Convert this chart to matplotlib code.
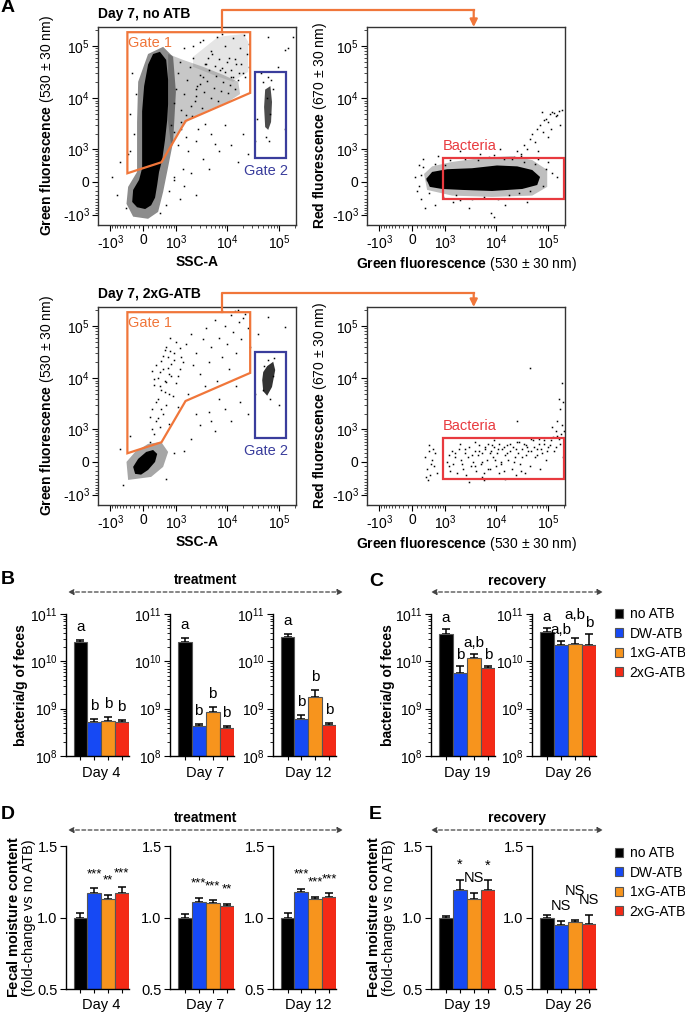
# -*- coding: utf-8 -*-
import numpy as np
import matplotlib
matplotlib.use('Agg')
import matplotlib.pyplot as plt
from matplotlib.lines import Line2D
from matplotlib.patches import FancyArrowPatch, Patch, Rectangle

plt.rcParams['font.family'] = 'Liberation Sans'
plt.rcParams['mathtext.fontset'] = 'custom'
plt.rcParams['mathtext.rm'] = 'Liberation Sans'
plt.rcParams['mathtext.bf'] = 'Liberation Sans:bold'
plt.rcParams['mathtext.it'] = 'Liberation Sans:italic'

# ---------------- dados ----------------
grupos = ['no ATB', 'DW-ATB', '1xG-ATB', '2xG-ATB']
cores = ['#000000', '#1649F4', '#F7941D', '#F42A16']

dias_trat = ['Day 4', 'Day 7', 'Day 12']
dias_rec = ['Day 19', 'Day 26']

# B / C : bacterias por g de fezes
bact_trat = [[2.5e10, 5.3e8, 5.6e8, 5.3e8],
             [2.6e10, 4.2e8, 8.5e8, 4.0e8],
             [3.3e10, 6.1e8, 1.8e9, 4.6e8]]
bact_trat_err = [[0.32e10, 0.7e8, 1.2e8, 0.5e8],
                 [0.45e10, 0.5e8, 2.5e8, 0.4e8],
                 [0.45e10, 1.2e8, 0.7e9, 0.5e8]]
letras_trat = [['a', 'b', 'b', 'b'], ['a', 'b', 'b', 'b'], ['a', 'b', 'b', 'b']]

bact_rec = [[3.8e10, 5.6e9, 1.2e10, 7.3e9],
            [4.2e10, 2.2e10, 2.35e10, 2.2e10]]
bact_rec_err = [[1.0e10, 2.4e9, 0.25e10, 0.8e9],
                [0.8e10, 0.55e10, 0.75e10, 1.5e10]]
letras_rec = [['a', 'b', 'a,b', 'b'], ['a', 'a,b', 'a,b', 'b']]

# D / E : umidade fecal
umid_trat = [[1.0, 1.17, 1.128, 1.174],
             [1.0, 1.107, 1.104, 1.081],
             [1.0, 1.181, 1.128, 1.146]]
umid_trat_err = [[0.03, 0.035, 0.03, 0.036],
                 [0.024, 0.03, 0.016, 0.016],
                 [0.03, 0.02, 0.018, 0.024]]
sig_trat = [['', '***', '**', '***'], ['', '***', '***', '**'], ['', '***', '***', '***']]

umid_rec = [[1.0, 1.193, 1.128, 1.19],
            [1.0, 0.947, 0.972, 0.953]]
umid_rec_err = [[0.01, 0.07, 0.04, 0.07],
                [0.02, 0.03, 0.013, 0.064]]
sig_rec = [['', '*', 'NS', '*'], ['', 'NS', 'NS', 'NS']]

# A : citometria
gate1_x = [-375, -375, 27900, 27900, 1580, 450]
gate1_y = [195, 183000, 183000, 12600, 3640, 490]
gate2_x = [34800, 137000]
gate2_y = [620, 32300]
bact_box_x = [910, 205000]
bact_box_y = [-400, 635]

# Dia 7, no ATB - SSC x verde
tl_denso_x = [405, 600, 668, 668, 635, 560, 470, 380, 330, 275, 180, 45, -135, -250, -227, -90, -22, -22, -22, 22, 110, 227]
tl_denso_y = [77000, 54000, 22500, 7700, 3800, 1550, 560, 227, -65, -375, -610, -750, -680, -500, -180, 45, 320, 1550, 5600, 17000, 44000, 70000]
tl_halo_x = [-135, -110, 110, 500, 870, 1000, 870, 670, 500, 355, 110, -227, -400, -355, -135]
tl_halo_y = [3480, 20600, 70000, 96000, 61800, 13100, 1410, 355, -227, -870, -1220, -1100, -560, -110, 227]
tl_medio_x = [670, 1410, 3480, 8450, 16500, 17900, 10500, 4350, 1790, 1115, 780, 670, 670]
tl_medio_y = [70000, 54000, 39800, 28000, 20600, 12000, 8450, 5900, 3800, 2050, 1270, 3480, 20600]
tl_leve_x = [2230, 6780, 20600, 25600, 25600, 13100, 5430, 2230]
tl_leve_y = [61800, 149000, 170000, 120000, 31900, 20600, 28000, 39800]
tl_g2_x = [54000, 68000, 73000, 70000, 61800, 54000, 51500]
tl_g2_y = [14600, 17000, 8450, 3480, 2450, 2780, 6780]
tl_x = [1500, 2200, 3000, 4000, 5000, 6500, 7500, 9000, 11000, 13000, 15000, 18000, 21000, 24000, 27000, 12000, 20000, 8000, 3500, 2600,
        45000, 131000, 150000, 60000, 38000, 95000, 130000, 180000,
        1800, 2500, 3500, 5000, 7000, 9000, 12000, 16000, 20000, 25000, 35000, 1400, 2000, 900, 4500, 6000, 1300, 1600, 2800, 3800, 1100,
        700, 1200, 900, 1500, 2500, 600, 400, -400, -700, -900, -600, -300,
        -200, -300, -150, -250, -350,
        50000, 62000, 70000, 55000, 64000, 75000, 58000, 66000,
        800, 900, 1000, 1100, 1200, 1300, 1500, 1700, 1900, 2100, 2400, 2700, 3000, 3300, 3700, 4100, 4600, 5000, 5600, 6200,
        6900, 7600, 8400, 9300, 10500, 11500, 13000, 14500, 16000, 900, 1250, 1600, 2000, 2500, 3100, 3800, 4400, 5200, 6000, 7000,
        8000, 10000, 12000, 14000, 17000, 19000, 22000, 26000, 2200, 3500]
tl_y = [90000, 60000, 120000, 45000, 80000, 150000, 35000, 100000, 60000, 140000, 45000, 90000, 160000, 70000, 110000, 25000, 30000, 170000, 25000, 15000,
        30000, 84000, 90000, 150000, 4000, 40000, 2500, 150000,
        900, 1500, 600, 2000, 900, 3000, 1200, 500, 2000, 800, 1500, 300, 200, 100, 300, 1300, 2500, 1800, 2600, 3200, 1200,
        -200, -400, 50, -100, -300, -600, -900, -700, -300, 100, 500, 900,
        2000, 5000, 12000, 30000, 800,
        20000, 25000, 22000, 1800, 1500, 15000, 10000, 5000,
        3000, 8000, 15000, 30000, 50000, 6000, 12000, 22000, 40000, 4500, 9000, 17000, 28000, 6500, 13000, 21000, 35000, 10000, 16000, 26000,
        9000, 14000, 20000, 32000, 12500, 18000, 25000, 15000, 22000, 2200, 3500, 4800, 7000, 11000, 19000, 45000, 60000, 70000, 42000, 55000,
        38000, 50000, 35000, 55000, 30000, 45000, 25000, 40000, 100000, 130000]

# Dia 7, no ATB - verde x vermelho
tr_denso_x = [330, 500, 1115, 3480, 10500, 25600, 49600, 70000, 61800, 31900, 8450, 2230, 870, 430]
tr_denso_y = [68, 227, 295, 320, 395, 370, 275, 110, -68, -158, -205, -180, -158, -110]
tr_halo_x = [275, 500, 1410, 5430, 20600, 49600, 96000, 96000, 49600, 8450, 1410, 355]
tr_halo_y = [180, 370, 500, 635, 700, 560, 275, -110, -320, -355, -320, -180]
tr_x = [20000, 25000, 30000, 35000, 40000, 45000, 50000, 55000, 60000, 70000, 80000, 90000, 100000, 110000, 120000, 140000, 160000, 150000, 130000, 100000, 75000, 65000, 170000, 185000, 85000, 115000,
        200, 300, 600, 1500, 3000, 8000, 15000, 40000, 150, 250, 700, 2000, 5000, 12000, 90000, 150000, 200000, 60, 100, 9000,
        250, 400, 600, 900, 1300, 1700, 2500, 3500, 4500, 6000, 7500, 11000, 14000, 18000, 22000, 28000, 35000, 45000, 55000, 80000,
        120000, 100000, 65000, 150, 200, 350, 1000, 2000, 9000, 30000]
tr_y = [600, 900, 700, 1200, 1000, 1600, 2000, 1400, 2600, 3000, 2200, 4000, 3500, 5000, 5500, 4500, 5800, 4800, 5200, 1800, 5500, 900, 3000, 6000, 3800, 2500,
        -400, -700, -600, -500, -700, -900, -600, -500, 400, 600, 700, 900, 800, 1000, 300, 100, -200, 100, -200, -1100,
        350, -250, 450, -350, 550, -300, 600, -400, 550, -350, 650, -400, 600, -300, 650, -250, 500, -200, 450, -100,
        200, 500, 600, -100, 150, 50, 400, -450, 750, 800]

# Dia 7, 2xG-ATB - SSC x verde
bl_denso_x = [-180, -227, -110, 68, 227, 330, 275, 110, -45]
bl_denso_y = [-275, -110, 68, 227, 275, 180, 0, -180, -295]
bl_halo_x = [-355, -400, -180, 110, 440, 670, 500, 180]
bl_halo_y = [-440, 0, 227, 440, 500, 227, -110, -355]
bl_g2_x = [49600, 59000, 77000, 84000, 73000, 59000, 49600, 47400]
bl_g2_y = [13100, 17000, 20600, 14300, 6780, 4600, 5600, 9170]
bl_x = [150, 250, 400, 300, 500, 200, 600, 350, 700, 450, 250, 550, 800, 400, 650, 300, 900, 500, 750, 600, 350, 200, 1000, 1200, 850, 1100, 150, 700,
        1300, 1600, 2000, 2500, 3000, 3500, 4000, 4500, 5000, 6000, 7000, 8000, 9000, 10000, 12000, 13000, 15000, 17000, 19000, 22000, 25000, 28000, 11000, 6500, 3800, 2200, 1800, 14000, 20000, 8000, 16000,
        2000, 3000, 4500, 6000, 9000, 12000, 18000, 25000, 35000, 1500, 2500, 7000, 5000, 15000,
        40000, 60000, 131000, 100000,
        -500, 600, -600, 900, -300,
        52000, 80000, 68000, 60000, 75000, 50000,
        200, 350, 450, 300, 550, 400, 600, 250, 700, 500, 800, 450, 650, 900, 550, 1000, 750, 1200, 1400, 1100]
bl_y = [500, 800, 1100, 1500, 2000, 2500, 3000, 4000, 5000, 6000, 7500, 9000, 11000, 13000, 16000, 18000, 22000, 27000, 33000, 40000, 10000, 14000, 8000, 15000, 4500, 2800, 1800, 1300,
        25000, 45000, 70000, 30000, 12000, 55000, 90000, 20000, 40000, 130000, 60000, 25000, 100000, 45000, 160000, 75000, 30000, 120000, 55000, 170000, 90000, 40000, 15000, 9000, 7000, 18000, 5000, 190000, 140000, 190000, 200000,
        600, 1200, 2200, 900, 2500, 1500, 3500, 2000, 5000, 250, 2000, 4000, 1500, 7000,
        70000, 150000, 96000, 3000,
        -600, -400, 300, 200, 700,
        17000, 24000, 4000, 22000, 11000, 6000,
        1000, 1700, 2600, 3500, 5500, 7000, 8500, 9500, 12000, 15000, 19000, 21000, 25000, 30000, 35000, 50000, 60000, 38000, 20000, 11000]

# Dia 7, 2xG-ATB - verde x vermelho
br_x = [300, 350, 400, 450, 500, 550, 600, 650, 380, 420, 520, 480, 330,
        1100, 1200, 1300, 1400, 1500, 1650, 1800, 1900, 2100, 2300, 2500, 2700, 2900, 3100, 3300, 3600, 3900, 4200, 4500, 4800,
        5100, 5500, 5900, 6300, 6700, 7100, 7600, 8100, 8700, 9300, 10000, 10700, 11500, 12300, 13100, 14000, 15000, 16000, 17000,
        18500, 20000, 21500, 23000, 25000, 27000, 29000, 31000, 34000, 37000, 40000, 44000, 48000, 52000, 57000, 62000, 68000, 75000,
        82000, 90000, 100000, 115000, 130000, 150000, 170000, 190000, 3000, 6000, 15000, 9000, 2000, 4000, 24000, 36000, 70000,
        150000, 170000, 160000, 185000, 140000, 120000, 180000, 195000, 45000, 25000,
        1200, 1600, 2200, 2600, 3400, 4000, 4700, 5300, 6100, 7000, 7800, 8500, 9600, 11000, 12800, 14500, 16500, 19000, 22000, 24000,
        28000, 32000, 38000, 42000, 46000, 54000, 60000, 66000, 72000, 85000, 95000, 110000, 125000, 140000, 160000, 175000, 200000, 5500, 11500, 30000]
br_y = [100, -150, 250, -300, 50, -100, 200, -250, -450, 400, 300, -50, -350,
        0, 150, -200, 250, -50, 100, -250, 300, 50, -150, 200, -300, 100, 350, -100, 0, 250, -200, 150, 400,
        -50, 200, -250, 300, 50, 450, -150, 250, 100, 350, -100, 200, 450, 0, 300, -200, 150, 400, 50,
        250, -150, 350, 100, 500, 200, -50, 300, 450, 150, 350, -100, 250, 550, 100, 300, 600, 200,
        450, 50, 350, 550, 250, 700, 450, 100, -500, -450, -400, 550, 450, 500, -300, -250, -150,
        1500, 2500, 4000, 1200, 900, 1100, 8000, 3500, 16000, 1500,
        -100, 200, -50, 300, 150, -100, 250, 0, 350, -150, 200, 400, 50, 300, -50, 350, 200, 450, 0, 300,
        500, 100, 400, 250, 600, 350, 150, 450, 300, 550, 250, 400, 650, 350, 600, 800, 900, -350, -250, -200]

# ---------------- figura ----------------
W, H = 685, 1013
fig = plt.figure(figsize=(W / 100, H / 100), dpi=100)
laranja = '#F0763A'
azul_gate = '#3A3D9C'
vermelho_box = '#E83A3F'


def fx(x):
    return x / W


def fy(y):
    return 1 - y / H


def eixo(l, t, r, b):
    return fig.add_axes([l / W, 1 - b / H, (r - l) / W, (b - t) / H])


def config_fluxo(ax):
    ax.set_xscale('asinh', linear_width=500)
    ax.set_yscale('asinh', linear_width=500)
    ax.set_xlim(-1790, 2.1e5)
    ax.set_ylim(-1630, 2.3e5)
    marcas = [-1e3, 0, 1e3, 1e4, 1e5]
    rot = ['-$10^3$', '0', '$10^3$', '$10^4$', '$10^5$']
    menores = [v for v in range(-900, 1000, 100) if v != 0] + \
              [k * 1e3 for k in range(2, 10)] + [k * 1e4 for k in range(2, 10)] + [2e5]
    ax.set_xticks(marcas)
    ax.set_xticklabels(rot)
    ax.set_yticks(marcas)
    ax.set_yticklabels(rot)
    ax.set_xticks(menores, minor=True)
    ax.set_yticks(menores, minor=True)
    ax.tick_params(which='major', length=4, width=0.8, labelsize=10, pad=2)
    ax.tick_params(which='minor', length=2, width=0.5)
    for s in ax.spines.values():
        s.set_color('#333333')
        s.set_linewidth(1.0)


def eventos(ax, x, y):
    ax.plot(x, y, ls='none', marker='s', ms=1.1, mfc='k', mec='none')


def gate1(ax):
    ax.fill(gate1_x, gate1_y, fill=False, ec=laranja, lw=1.6, zorder=5)
    ax.add_patch(Rectangle((gate2_x[0], gate2_y[0]), gate2_x[1] - gate2_x[0], gate2_y[1] - gate2_y[0],
                           fill=False, ec=azul_gate, lw=1.6, zorder=5))
    ax.text(0.263, 0.919, 'Gate 1', transform=ax.transAxes, color=laranja, fontsize=10.5, ha='center', va='center')
    ax.text(0.848, 0.273, 'Gate 2', transform=ax.transAxes, color=azul_gate, fontsize=10.5, ha='center', va='center')
    ax.set_xlabel('SSC-A', fontweight='bold', fontsize=10)
    ax.set_ylabel(r'$\mathbf{Green\ fluorescence}$ (530 ± 30 nm)', fontsize=10)
    ax.yaxis.set_label_coords(-0.21, 0.5)
    ax.xaxis.set_label_coords(0.5, -0.15)


def caixa_bact(ax):
    ax.add_patch(Rectangle((bact_box_x[0], bact_box_y[0]), bact_box_x[1] - bact_box_x[0], bact_box_y[1] - bact_box_y[0],
                           fill=False, ec=vermelho_box, lw=1.6, zorder=5))
    ax.text(0.382, 0.40, 'Bacteria', transform=ax.transAxes, color=vermelho_box, fontsize=10.5, ha='left', va='center')
    ax.set_xlabel(r'$\mathbf{Green\ fluorescence}$ (530 ± 30 nm)', fontsize=10)
    ax.set_ylabel(r'$\mathbf{Red\ fluorescence}$ (670 ± 30 nm)', fontsize=10)
    ax.yaxis.set_label_coords(-0.19, 0.5)
    ax.xaxis.set_label_coords(0.5, -0.15)


def conector(ax1, ax2, x_porta, x_alvo, y_linha):
    inv = fig.transFigure.inverted()
    a = inv.transform(ax1.transData.transform((x_porta, gate1_y[1])))
    b = inv.transform(ax2.transData.transform((x_alvo, ax2.get_ylim()[1])))
    yl = fy(y_linha)
    fig.add_artist(Line2D([a[0], a[0], b[0]], [a[1], yl, yl], transform=fig.transFigure, color=laranja, lw=1.6))
    fig.add_artist(FancyArrowPatch((b[0], yl), (b[0], b[1]), transform=fig.transFigure, arrowstyle='-|>',
                                   mutation_scale=11, color=laranja, lw=1.6, shrinkA=0, shrinkB=0))


# painel A - linha de cima
ax_tl = eixo(98, 27, 296, 225)
config_fluxo(ax_tl)
ax_tl.fill(tl_leve_x, tl_leve_y, fc='k', ec='none', alpha=0.1)
ax_tl.fill(tl_medio_x, tl_medio_y, fc='k', ec='none', alpha=0.22)
ax_tl.fill(tl_halo_x, tl_halo_y, fc='k', ec='none', alpha=0.45)
ax_tl.fill(tl_denso_x, tl_denso_y, fc='k', ec='none')
ax_tl.fill(tl_g2_x, tl_g2_y, fc='k', ec='none', alpha=0.7)
eventos(ax_tl, tl_x, tl_y)
gate1(ax_tl)

ax_tr = eixo(367, 27, 565, 225)
config_fluxo(ax_tr)
ax_tr.fill(tr_halo_x, tr_halo_y, fc='k', ec='none', alpha=0.25)
ax_tr.fill(tr_denso_x, tr_denso_y, fc='k', ec='none')
eventos(ax_tr, tr_x, tr_y)
caixa_bact(ax_tr)

# painel A - linha de baixo
ax_bl = eixo(98, 307, 296, 505)
config_fluxo(ax_bl)
ax_bl.fill(bl_halo_x, bl_halo_y, fc='k', ec='none', alpha=0.35)
ax_bl.fill(bl_denso_x, bl_denso_y, fc='k', ec='none')
ax_bl.fill(bl_g2_x, bl_g2_y, fc='k', ec='none', alpha=0.8)
eventos(ax_bl, bl_x, bl_y)
gate1(ax_bl)

ax_br = eixo(367, 307, 565, 505)
config_fluxo(ax_br)
eventos(ax_br, br_x, br_y)
caixa_bact(ax_br)

conector(ax_tl, ax_tr, 8000, 3750, 10)
conector(ax_bl, ax_br, 8000, 3750, 293)

fig.text(fx(98), fy(14), 'Day 7, no ATB', fontweight='bold', fontsize=10, va='center')
fig.text(fx(98), fy(294), 'Day 7, 2xG-ATB', fontweight='bold', fontsize=10, va='center')


# ---------------- barras ----------------
def config_barras(ax, dia, y_dia, tam_y):
    for lado in ['top', 'right']:
        ax.spines[lado].set_visible(False)
    for lado in ['left', 'bottom']:
        ax.spines[lado].set_linewidth(1.0)
    ax.set_xlim(-1.05, 3.5)
    ax.set_xticks(range(4))
    ax.set_xticklabels([])
    ax.tick_params(axis='x', length=3, width=0.8)
    ax.tick_params(axis='y', which='major', length=4, width=0.8, labelsize=tam_y, pad=2)
    ax.tick_params(axis='y', which='minor', length=2, width=0.6)
    ax.annotate(dia, xy=(1.5, 0), xycoords=('data', 'axes fraction'), xytext=(0, -y_dia),
                textcoords='offset pixels', ha='center', va='center', fontsize=10.5)


def desenha_barras(ax, vals, errs):
    x = np.arange(4)
    ax.bar(x, vals, width=1, color=cores, edgecolor='#555555', linewidth=0.8, zorder=2)
    ax.errorbar(x, vals, yerr=[np.zeros(4), errs], fmt='none', ecolor='black', elinewidth=1.1,
                capsize=3.2, capthick=1.1, zorder=1)


def rotulos(ax, vals, errs, textos, tam, base, extra):
    for i, t in enumerate(textos):
        if t:
            ax.annotate(t, xy=(i, vals[i] + errs[i]), xytext=(0, base + extra.get(i, 0)),
                        textcoords='offset pixels', ha='center', va='bottom', fontsize=tam)


def log_eixo(ax):
    ax.set_yscale('log')
    ax.set_ylim(1e8, 1e11)
    ax.set_yticks([1e8, 1e9, 1e10, 1e11])
    ax.set_yticklabels(['$10^{8}$', '$10^{9}$', '$10^{10}$', '$10^{11}$'])
    ax.yaxis.set_minor_locator(matplotlib.ticker.LogLocator(subs=np.arange(2, 10)))
    ax.yaxis.set_minor_formatter(matplotlib.ticker.NullFormatter())


def lin_eixo(ax):
    ax.set_ylim(0.5, 1.5)
    ax.set_yticks([0.5, 1.0, 1.5])
    ax.set_yticklabels(['0.5', '1.0', '1.5'])


desloc_C = {1: {2: 12}}
desloc_E = {1: {2: 14}}

pos_trat = [(66, 128.5), (170, 233.5), (273, 336)]
pos_rec = [(431, 495), (532, 596)]
rotulo_umid = '$\\mathbf{Fecal\\ moisture\\ content}$\n(fold-change vs no ATB)'

# B
for k, (l, r) in enumerate(pos_trat):
    ax = eixo(l, 614, r, 756)
    log_eixo(ax)
    desenha_barras(ax, bact_trat[k], bact_trat_err[k])
    config_barras(ax, dias_trat[k], 17, 10)
    rotulos(ax, bact_trat[k], bact_trat_err[k], letras_trat[k], 11, 6, {})
    if k == 0:
        ax.set_ylabel('bacteria/g of feces', fontweight='bold', fontsize=10)
        ax.yaxis.set_label_coords(-0.6, 0.5)

# C
for k, (l, r) in enumerate(pos_rec):
    ax = eixo(l, 614, r, 756)
    log_eixo(ax)
    desenha_barras(ax, bact_rec[k], bact_rec_err[k])
    config_barras(ax, dias_rec[k], 17, 10)
    rotulos(ax, bact_rec[k], bact_rec_err[k], letras_rec[k], 11, 4, desloc_C.get(k, {}))
    if k == 0:
        ax.set_ylabel('bacteria/g of feces', fontweight='bold', fontsize=10)
        ax.yaxis.set_label_coords(-0.57, 0.5)

# D
for k, (l, r) in enumerate(pos_trat):
    ax = eixo(l, 846, r, 989)
    lin_eixo(ax)
    desenha_barras(ax, umid_trat[k], umid_trat_err[k])
    config_barras(ax, dias_trat[k], 16, 10.5)
    rotulos(ax, umid_trat[k], umid_trat_err[k], sig_trat[k], 9.5, 8, {})
    if k == 0:
        ax.set_ylabel(rotulo_umid, fontsize=10.5, linespacing=1.1)
        ax.yaxis.set_label_coords(-0.48, 0.5)

# E
for k, (l, r) in enumerate(pos_rec):
    ax = eixo(l, 846, r, 989)
    lin_eixo(ax)
    desenha_barras(ax, umid_rec[k], umid_rec_err[k])
    config_barras(ax, dias_rec[k], 16, 10.5)
    rotulos(ax, umid_rec[k], umid_rec_err[k], sig_rec[k], 10.5, 8, desloc_E.get(k, {}))
    if k == 0:
        ax.set_ylabel(rotulo_umid, fontsize=10.5, linespacing=1.1)
        ax.yaxis.set_label_coords(-0.55, 0.5)


# legendas
def legenda(y_topo):
    alcas = [Patch(facecolor=c, edgecolor='#555555', linewidth=0.8) for c in cores]
    fig.legend(alcas, grupos, loc='upper left', bbox_to_anchor=(fx(615), fy(y_topo)), frameon=False,
               fontsize=10, handlelength=0.6, handleheight=0.6, handletextpad=0.45,
               labelspacing=0.4, borderpad=0, borderaxespad=0)


legenda(607)
legenda(846)


# faixas tratamento / recuperacao
def faixa(texto, x0, x1, y_txt, y_seta):
    fig.text(fx((x0 + x1) / 2), fy(y_txt), texto, ha='center', va='center', fontweight='bold', fontsize=10)
    fig.add_artist(FancyArrowPatch((fx(x0), fy(y_seta)), (fx(x1), fy(y_seta)), transform=fig.transFigure,
                                   arrowstyle='<|-|>', mutation_scale=8, color='#444444', lw=0.9,
                                   linestyle=(0, (3, 2)), shrinkA=0, shrinkB=0))


faixa('treatment', 68, 343, 580, 592)
faixa('recovery', 431, 603, 581, 592)
faixa('treatment', 68, 343, 818, 830)
faixa('recovery', 431, 603, 818, 830)

# letras dos paineis
for letra, x, y in [('A', 1, 8), ('B', 1, 579), ('C', 369, 581), ('D', 1, 814), ('E', 369, 814)]:
    fig.text(fx(x), fy(y), letra, fontsize=14, fontweight='bold', va='center', ha='left')

fig.savefig('out.png', dpi=100)
